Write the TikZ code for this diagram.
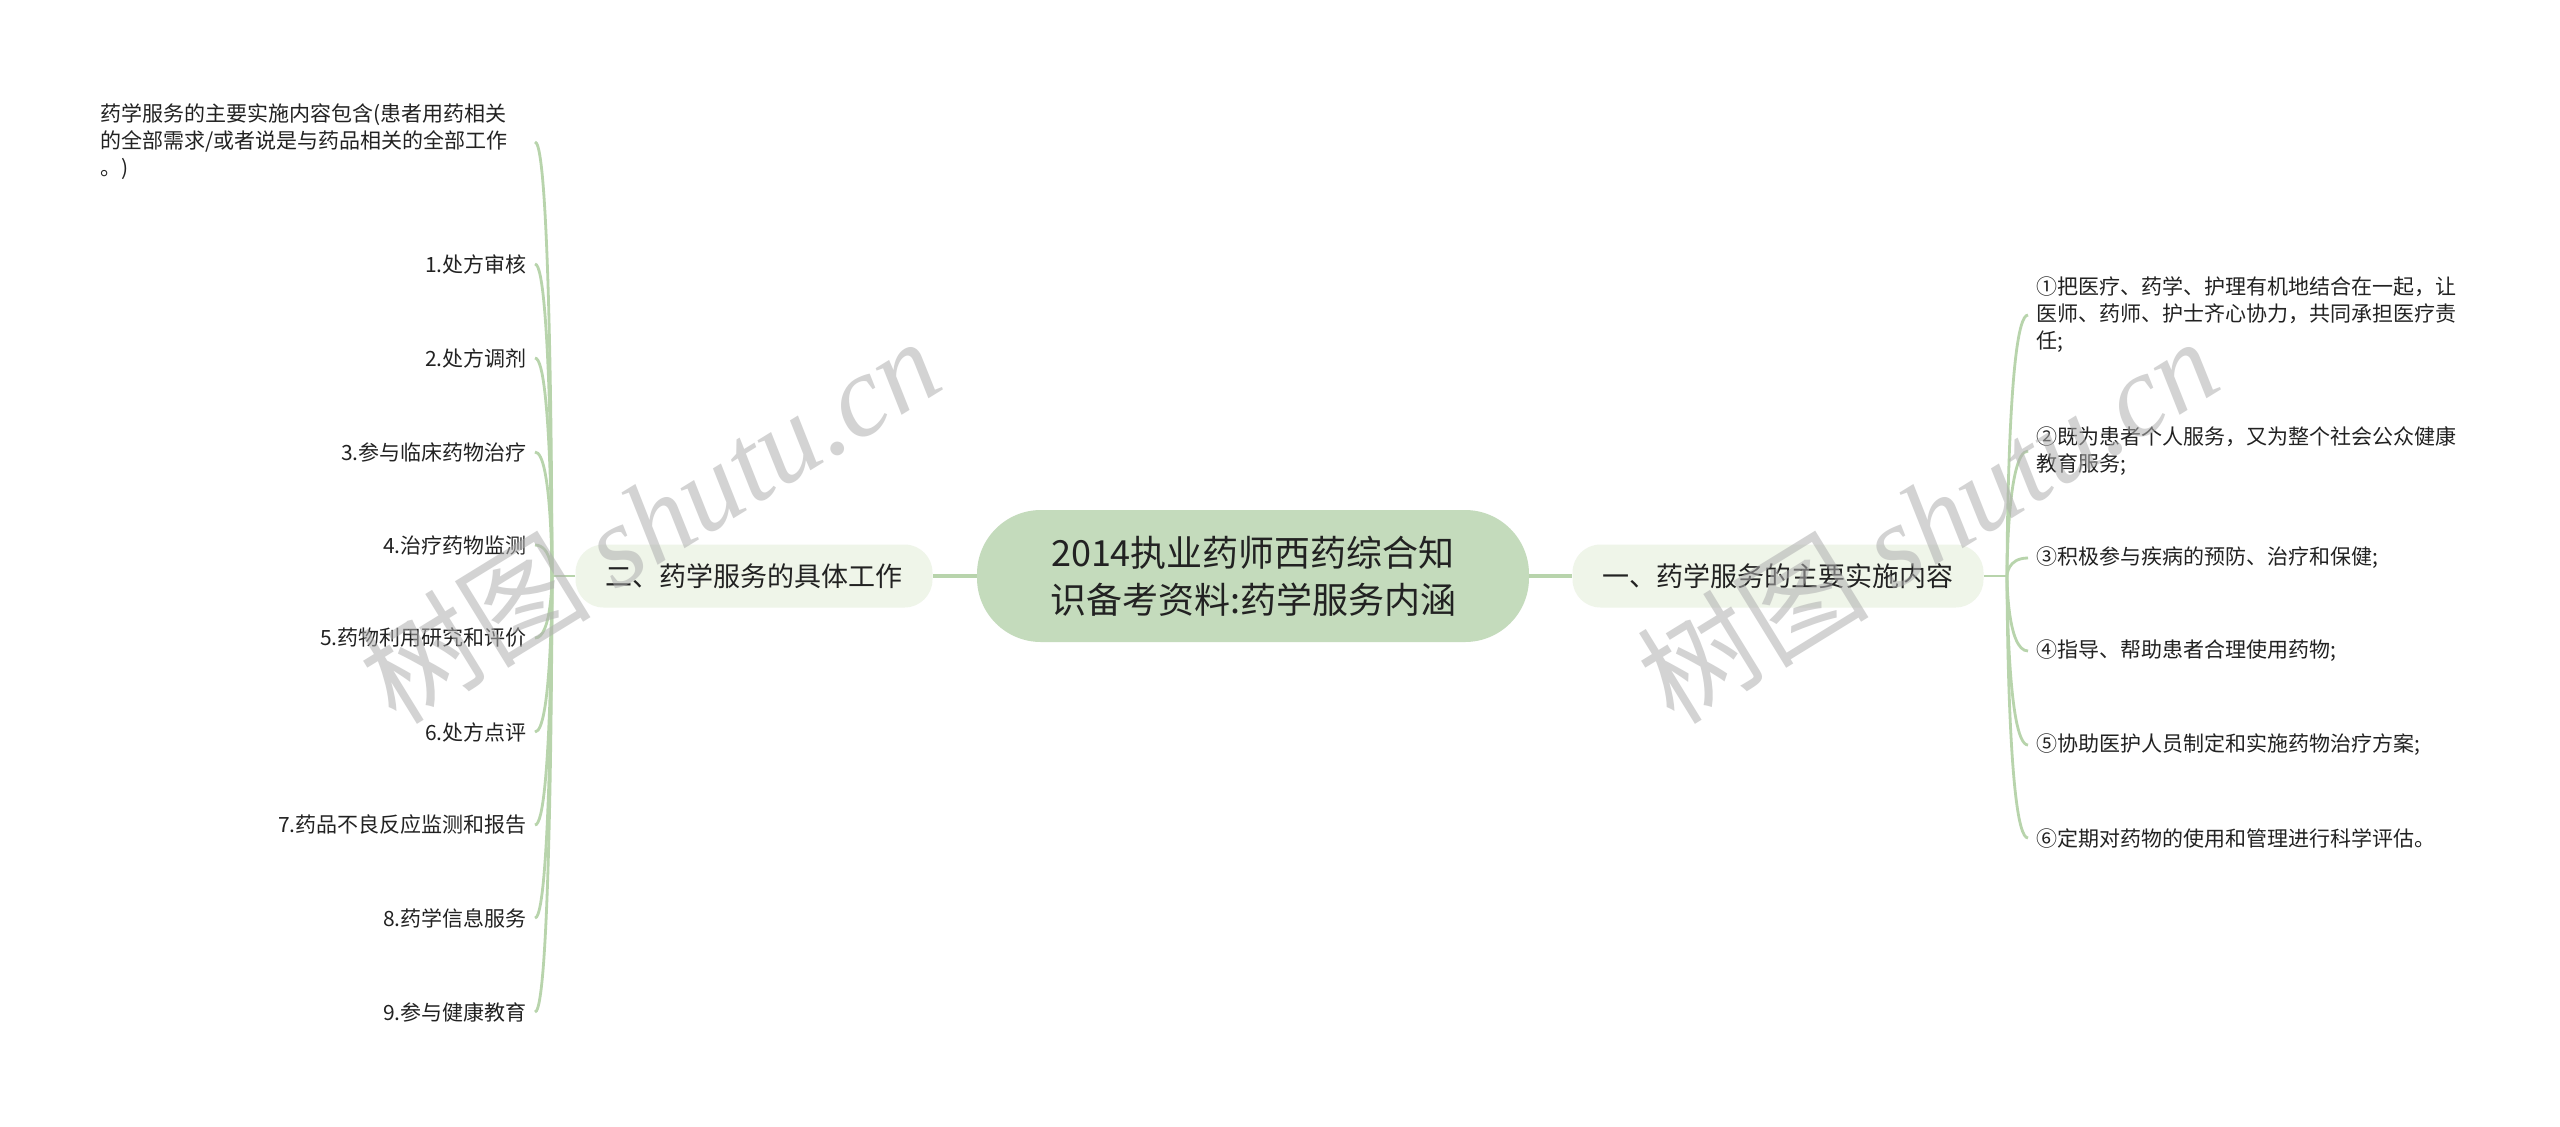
\documentclass[tikz,border=0pt]{standalone}
\usepackage{fontspec}
\setmainfont{Noto Sans CJK SC}
\newfontfamily\wmserif{Liberation Serif}
\usetikzlibrary{calc}
\definecolor{linegreen}{RGB}{184,212,172}
\definecolor{rootfill}{RGB}{196,219,188}
\definecolor{branchfill}{RGB}{239,245,233}
\definecolor{txt}{RGB}{34,34,34}
\definecolor{wmgray}{RGB}{175,175,175}
\begin{document}
\begin{tikzpicture}[x=0.5pt,y=-0.5pt,
  rootnode/.style={fill=rootfill, rounded corners=32pt, minimum width=276pt, minimum height=66pt,
    align=center, font=\fontsize{18pt}{23.5pt}\selectfont, text=txt},
  branchnode/.style={fill=branchfill, rounded corners=14pt, minimum height=31.5pt, inner xsep=15pt,
    font=\fontsize{13.5pt}{16pt}\selectfont, text=txt},
  leafL/.style={anchor=east, inner xsep=4pt, inner ysep=1pt, align=right,
    font=\fontsize{10.5pt}{13.5pt}\selectfont, text=txt},
  leafR/.style={anchor=west, inner xsep=4pt, inner ysep=1pt, align=left,
    font=\fontsize{10.5pt}{13.5pt}\selectfont, text=txt},
  conn/.style={draw=linegreen, line width=1.4pt},
  mainconn/.style={draw=linegreen, line width=1.8pt},
  wm/.style={text=wmgray, opacity=0.55, font=\fontsize{58pt}{60pt}\selectfont},
]
\useasboundingbox[fill=white] (0,0) rectangle (2560,1126);

% root and branches
\node[rootnode] (root) at (1253,576) {2014执业药师西药综合知\\识备考资料:药学服务内涵};
\node[branchnode] (L) at (754,576) {二、药学服务的具体工作};
\node[branchnode] (R) at (1778,576) {一、药学服务的主要实施内容};

% left leaves
\node[leafL, text width=213pt, align=left] (l0) at (535,142) {药学服务的主要实施内容包含(患者用药相关\\的全部需求/或者说是与药品相关的全部工作\\。)};
\node[leafL] (l1) at (535,264) {1.处方审核};
\node[leafL] (l2) at (535,358) {2.处方调剂};
\node[leafL] (l3) at (535,452) {3.参与临床药物治疗};
\node[leafL] (l4) at (535,545) {4.治疗药物监测};
\node[leafL] (l5) at (535,638) {5.药物利用研究和评价};
\node[leafL] (l6) at (535,732) {6.处方点评};
\node[leafL] (l7) at (535,825) {7.药品不良反应监测和报告};
\node[leafL] (l8) at (535,918) {8.药学信息服务};
\node[leafL] (l9) at (535,1012) {9.参与健康教育};

% right leaves
\node[leafR] (r1) at (2028,315) {①把医疗、药学、护理有机地结合在一起，让\\医师、药师、护士齐心协力，共同承担医疗责\\任;};
\node[leafR] (r2) at (2028,451) {②既为患者个人服务，又为整个社会公众健康\\教育服务;};
\node[leafR] (r3) at (2028,558) {③积极参与疾病的预防、治疗和保健;};
\node[leafR] (r4) at (2028,651) {④指导、帮助患者合理使用药物;};
\node[leafR] (r5) at (2028,745) {⑤协助医护人员制定和实施药物治疗方案;};
\node[leafR] (r6) at (2028,838) {⑥定期对药物的使用和管理进行科学评估。};

% connectors
\draw[mainconn] (root.west) -- (L.east);
\draw[mainconn] (root.east) -- (R.west);

\coordinate (lt) at (552,576);
\coordinate (rt) at (2007,576);
\draw[conn] (L.west) -- (lt);
\draw[conn] (R.east) -- (rt);
\foreach \c in {l0,l1,l2,l3,l4,l5,l6,l7,l8,l9}
  \draw[conn] let \p1=(lt), \p2=(\c.east) in (\p1) .. controls (\x1,\y1) and (\x1,\y2) .. (\p2);
\foreach \c in {r1,r2,r3,r4,r5,r6}
  \draw[conn] let \p1=(rt), \p2=(\c.west) in (\p1) .. controls (\x1,\y1) and (\x1,\y2) .. (\p2);

% watermarks
\node[wm, rotate=31.6] (wm1) at (649,519) {树图 {\wmserif\itshape shutu.cn}};
\node[wm, rotate=31.6] (wm2) at (1927,519) {树图 {\wmserif\itshape shutu.cn}};
\end{tikzpicture}
\end{document}
